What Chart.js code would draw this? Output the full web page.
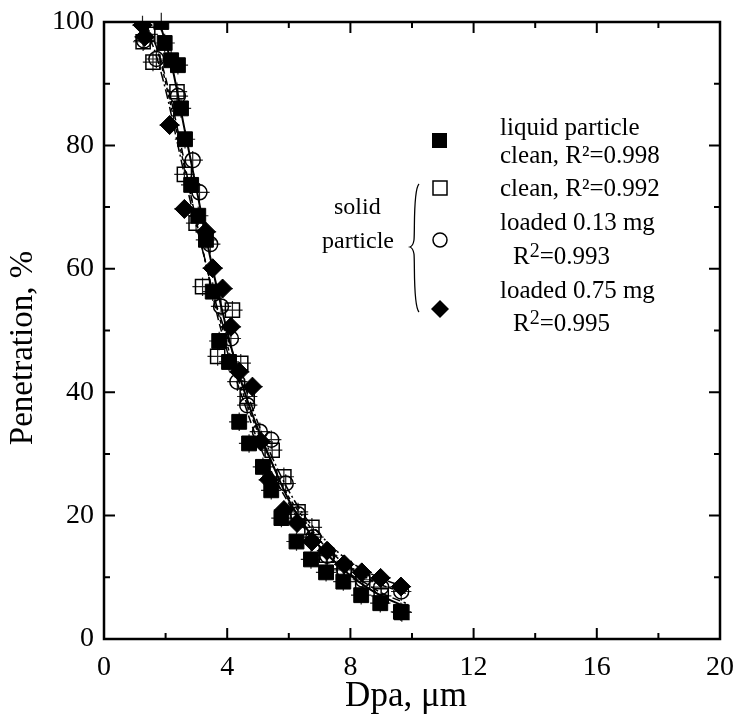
<!DOCTYPE html>
<html>
<head>
<meta charset="utf-8">
<script src="https://cdn.jsdelivr.net/npm/chart.js@4.4.1/dist/chart.umd.min.js"></script>
<style>
  html, body { margin: 0; padding: 0; background: #fff; }
</style>
</head>
<body>
<canvas id="chart" width="739" height="719"></canvas>
<script>
// Penetration vs aerodynamic diameter (Dpa)

// liquid particle, clean filter (filled squares)
const liquidX = [1.86, 1.97, 2.18, 2.4, 2.5, 2.63, 2.83, 3.06, 3.31, 3.53, 3.74, 4.06, 4.39, 4.71, 5.16, 5.43, 5.76, 6.25, 6.72, 7.21, 7.77, 8.35, 8.97, 9.64];
const liquidY = [100, 96.6, 93.8, 93, 86, 81, 73.6, 68.6, 64.7, 56.3, 48.3, 44.9, 35.2, 31.7, 27.9, 24.1, 19.6, 15.8, 12.9, 10.8, 9.3, 7.1, 5.8, 4.4];

// solid particle, clean filter (open squares)
const cleanX = [1.27, 1.42, 1.59, 2.37, 2.61, 2.99, 3.2, 3.69, 4.17, 4.44, 4.65, 5.46, 5.84, 6.3, 6.75, 7.22, 7.8, 8.4, 9.0, 9.67];
const cleanY = [96.8, 98, 93.5, 88.7, 75.3, 67.4, 57.1, 45.8, 53.3, 44.7, 39.3, 30.6, 26.3, 20.6, 18.1, 13.6, 11.4, 9.3, 7.0, 4.3];

// solid particle, loaded 0.13 mg (open circles)
const load13X = [1.3, 1.7, 2.4, 2.88, 3.1, 3.45, 3.8, 4.12, 4.33, 4.65, 5.06, 5.43, 5.9, 6.3, 6.8, 7.25, 7.8, 8.4, 9.0, 9.65];
const load13Y = [97, 94, 88, 77.6, 72.4, 64, 53.9, 48.7, 41.7, 37.9, 33.6, 32.3, 25.2, 20.2, 16.5, 13.5, 11.2, 9.6, 8.4, 7.7];

// solid particle, loaded 0.75 mg (filled diamonds)
const load75X = [1.25, 1.32, 2.13, 2.61, 3.31, 3.53, 3.85, 4.12, 4.39, 4.82, 5.09, 5.35, 5.84, 6.27, 6.75, 7.24, 7.8, 8.37, 8.98, 9.64];
const load75Y = [99.5, 97.6, 83.3, 69.7, 66, 60.1, 56.8, 50.6, 43.3, 40.9, 32, 25.8, 20.9, 18.8, 15.8, 14.3, 12.1, 10.8, 9.9, 8.5];

// fitted curves
const fitLiquidX = [1.8, 2.2, 2.6, 3.0, 3.4, 3.8, 4.2, 4.6, 5.0, 5.5, 6.0, 6.5, 7.0, 7.5, 8.0, 8.5, 9.0, 9.8];
const fitLiquidY = [100, 93, 83, 73, 63, 54, 46, 39.5, 34, 28, 22.5, 18.5, 15, 12.5, 10.3, 8.5, 7, 5.2];
const fitCleanX = [1.3, 1.7, 2.1, 2.5, 2.9, 3.3, 3.7, 4.1, 4.5, 5.0, 5.5, 6.0, 6.5, 7.0, 7.5, 8.0, 8.5, 9.0, 9.8];
const fitCleanY = [100, 96, 89, 80, 70, 61, 52, 45, 39, 32, 26.5, 22, 18, 15, 12.5, 10.5, 9, 7.5, 5.8];
const fitLoad13X = [1.3, 1.7, 2.1, 2.5, 2.9, 3.3, 3.7, 4.1, 4.5, 5.0, 5.5, 6.0, 6.5, 7.0, 7.5, 8.0, 8.5, 9.0, 9.8];
const fitLoad13Y = [100, 96, 88, 79, 70, 61, 53, 46, 40, 33.5, 28, 23, 19.5, 16, 13.5, 11.5, 10, 8.8, 7.4];
const fitLoad75X = [1.2, 1.6, 2.0, 2.4, 2.8, 3.2, 3.6, 4.0, 4.5, 5.0, 5.5, 6.0, 6.5, 7.0, 7.5, 8.0, 8.5, 9.0, 9.8];
const fitLoad75Y = [100, 96, 89, 80, 71, 63, 55, 49, 42, 35, 29, 24, 20, 17, 14.5, 12.5, 11, 9.8, 8.4];

// error bar half widths (um) and heights (%)
const errX = 0.33;
const errY = 1.5;

const xTicks = [0, 4, 8, 12, 16, 20];
const yTicks = [0, 20, 40, 60, 80, 100];

const serif = "'Liberation Serif', 'DejaVu Serif', serif";

function pts(xs, ys) {
  return xs.map((x, i) => ({ x: x, y: ys[i] }));
}

// draws the box, inward ticks, error bars, axis titles and the key
const decorations = {
  id: "decorations",
  beforeDatasetsDraw(chart) {
    const ctx = chart.ctx;
    const xs = chart.scales.x;
    const ys = chart.scales.y;
    ctx.save();
    ctx.strokeStyle = "#222";
    ctx.lineWidth = 1.2;
    chart.data.datasets.forEach((ds) => {
      if (!ds.errorBars) return;
      ds.data.forEach((p) => {
        const px = xs.getPixelForValue(p.x);
        const py = ys.getPixelForValue(p.y);
        ctx.beginPath();
        ctx.moveTo(xs.getPixelForValue(p.x - errX), py);
        ctx.lineTo(xs.getPixelForValue(p.x + errX), py);
        ctx.moveTo(px, ys.getPixelForValue(p.y - errY));
        ctx.lineTo(px, ys.getPixelForValue(p.y + errY));
        ctx.stroke();
      });
    });
    ctx.restore();
  },
  afterDraw(chart) {
    const ctx = chart.ctx;
    const a = chart.chartArea;
    const xs = chart.scales.x;
    const ys = chart.scales.y;
    ctx.save();
    ctx.strokeStyle = "#000";
    ctx.lineWidth = 2.5;
    ctx.strokeRect(a.left, a.top, a.right - a.left, a.bottom - a.top);

    ctx.lineWidth = 2;
    ctx.beginPath();
    for (let v = 0; v <= 20; v += 2) {
      const px = xs.getPixelForValue(v);
      const len = v % 4 === 0 ? 11 : 6;
      ctx.moveTo(px, a.bottom);
      ctx.lineTo(px, a.bottom - len);
      ctx.moveTo(px, a.top);
      ctx.lineTo(px, a.top + len);
    }
    for (let v = 0; v <= 100; v += 10) {
      const py = ys.getPixelForValue(v);
      const len = v % 20 === 0 ? 11 : 6;
      ctx.moveTo(a.left, py);
      ctx.lineTo(a.left + len, py);
      ctx.moveTo(a.right, py);
      ctx.lineTo(a.right - len, py);
    }
    ctx.stroke();

    // axis titles
    ctx.fillStyle = "#000";
    ctx.textAlign = "center";
    ctx.textBaseline = "middle";
    ctx.font = "35px " + serif;
    ctx.fillText("Dpa, \u03bcm", 406, 697);
    ctx.save();
    ctx.translate(23, 348);
    ctx.rotate(-Math.PI / 2);
    ctx.font = "33px " + serif;
    ctx.fillText("Penetration, %", 0, 0);
    ctx.restore();

    // key markers
    ctx.lineWidth = 1.5;
    ctx.fillRect(432, 133, 15, 15);
    ctx.strokeRect(433, 181, 14, 14);
    ctx.beginPath();
    ctx.arc(440, 240, 7, 0, Math.PI * 2);
    ctx.stroke();
    ctx.beginPath();
    ctx.moveTo(440, 300);
    ctx.lineTo(449, 309);
    ctx.lineTo(440, 318);
    ctx.lineTo(431, 309);
    ctx.closePath();
    ctx.fill();

    // brace
    ctx.lineWidth = 1.3;
    ctx.beginPath();
    ctx.moveTo(419, 184);
    ctx.bezierCurveTo(413, 190, 415, 230, 414, 240);
    ctx.quadraticCurveTo(413, 246, 410, 247);
    ctx.quadraticCurveTo(413, 248, 414, 254);
    ctx.bezierCurveTo(415, 264, 413, 306, 419, 312);
    ctx.stroke();

    // key text
    ctx.textBaseline = "alphabetic";
    ctx.textAlign = "left";
    ctx.font = "25px " + serif;
    ctx.fillText("liquid particle", 500, 135);
    ctx.fillText("clean, R\u00b2=0.998", 500, 163);
    ctx.fillText("clean, R\u00b2=0.992", 500, 196);
    ctx.fillText("loaded 0.13 mg", 500, 230);
    ctx.fillText("loaded 0.75 mg", 500, 298);
    const sup = (y, txt) => {
      ctx.font = "25px " + serif;
      ctx.fillText("R", 513, y);
      const w = ctx.measureText("R").width;
      ctx.font = "20px " + serif;
      ctx.fillText("2", 513 + w, y - 7);
      const w2 = ctx.measureText("2").width;
      ctx.font = "25px " + serif;
      ctx.fillText(txt, 513 + w + w2, y);
    };
    sup(264, "=0.993");
    sup(331, "=0.995");
    ctx.font = "24px " + serif;
    ctx.fillText("solid", 334, 214);
    ctx.fillText("particle", 322, 248);
    ctx.restore();
  },
};

const ctx = document.getElementById("chart").getContext("2d");

new Chart(ctx, {
  type: "scatter",
  data: {
    datasets: [
      {
        label: "liquid particle clean",
        data: pts(liquidX, liquidY),
        pointStyle: "rect",
        pointRadius: 10.5,
        backgroundColor: "#000",
        borderColor: "#000",
        borderWidth: 1,
        errorBars: true,
        order: 1,
      },
      {
        label: "loaded 0.75 mg",
        data: pts(load75X, load75Y),
        pointStyle: "rectRot",
        pointRadius: 9.5,
        backgroundColor: "#000",
        borderColor: "#000",
        borderWidth: 1,
        errorBars: true,
        order: 2,
      },
      {
        label: "clean",
        data: pts(cleanX, cleanY),
        pointStyle: "rect",
        pointRadius: 10,
        backgroundColor: "rgba(0,0,0,0)",
        borderColor: "#000",
        borderWidth: 1.5,
        errorBars: true,
        order: 3,
      },
      {
        label: "loaded 0.13 mg",
        data: pts(load13X, load13Y),
        pointStyle: "circle",
        pointRadius: 7.5,
        backgroundColor: "rgba(0,0,0,0)",
        borderColor: "#000",
        borderWidth: 1.5,
        errorBars: true,
        order: 4,
      },
      {
        label: "fit liquid",
        data: pts(fitLiquidX, fitLiquidY),
        showLine: true,
        pointRadius: 0,
        borderColor: "#000",
        borderWidth: 2,
        cubicInterpolationMode: "monotone",
        order: 5,
      },
      {
        label: "fit clean",
        data: pts(fitCleanX, fitCleanY),
        showLine: true,
        pointRadius: 0,
        borderColor: "#000",
        borderWidth: 1.5,
        borderDash: [8, 4],
        cubicInterpolationMode: "monotone",
        order: 6,
      },
      {
        label: "fit 0.13",
        data: pts(fitLoad13X, fitLoad13Y),
        showLine: true,
        pointRadius: 0,
        borderColor: "#000",
        borderWidth: 1.5,
        borderDash: [4, 3],
        cubicInterpolationMode: "monotone",
        order: 7,
      },
      {
        label: "fit 0.75",
        data: pts(fitLoad75X, fitLoad75Y),
        showLine: true,
        pointRadius: 0,
        borderColor: "#000",
        borderWidth: 1.5,
        borderDash: [10, 3, 2, 3],
        cubicInterpolationMode: "monotone",
        order: 8,
      },
    ],
  },
  options: {
    responsive: false,
    animation: false,
    layout: { padding: { top: 22, right: 19, left: 0, bottom: 0 } },
    plugins: {
      legend: { display: false },
      tooltip: { enabled: false },
    },
    scales: {
      x: {
        type: "linear",
        min: 0,
        max: 20,
        afterBuildTicks: (s) => { s.ticks = xTicks.map((v) => ({ value: v })); },
        afterFit: (s) => { s.height = 80; s.paddingLeft = 0; s.paddingRight = 0; },
        grid: { display: false, drawTicks: false },
        border: { display: false },
        ticks: { color: "#000", padding: 12, font: { family: serif, size: 28 } },
      },
      y: {
        type: "linear",
        min: 0,
        max: 100,
        afterBuildTicks: (s) => { s.ticks = yTicks.map((v) => ({ value: v })); },
        afterFit: (s) => { s.width = 104; s.paddingTop = 0; s.paddingBottom = 0; },
        grid: { display: false, drawTicks: false },
        border: { display: false },
        ticks: { color: "#000", padding: 10, font: { family: serif, size: 28 } },
      },
    },
  },
  plugins: [decorations],
});
</script>
</body>
</html>
